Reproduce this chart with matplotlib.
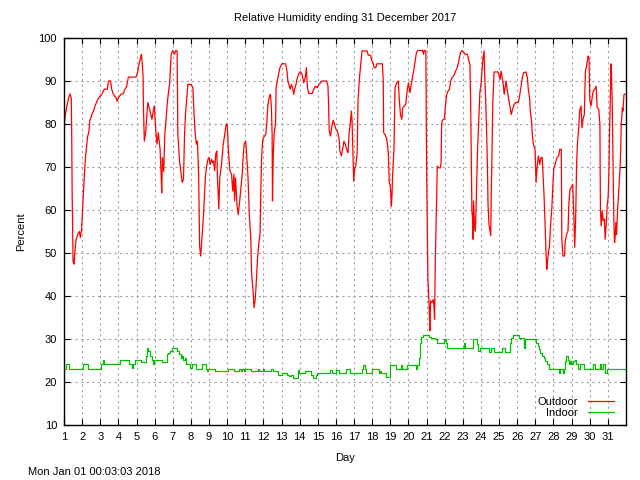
#!/usr/bin/env python

import matplotlib
matplotlib.use('Agg')
from matplotlib import pyplot as plt

# Outdoor relative humidity (day of month, percent)
outdoor_day = [
    1.00, 1.05, 1.15, 1.25, 1.33, 1.40, 1.42, 1.45, 1.50, 1.55, 1.60, 1.65, 1.75, 1.85, 1.90, 1.97,
    2.02, 2.07, 2.12, 2.18, 2.24, 2.30, 2.38, 2.42, 2.52, 2.62, 2.75, 2.86, 2.99,
    3.11, 3.22, 3.39, 3.45, 3.57, 3.63, 3.72, 3.87, 3.93,
    4.00, 4.14, 4.27, 4.36, 4.46, 4.55, 4.97,
    5.05, 5.14, 5.22, 5.27, 5.32, 5.36, 5.38, 5.43, 5.50, 5.55, 5.62, 5.70, 5.80, 5.85, 5.92, 5.98,
    6.07, 6.13, 6.20, 6.30, 6.35, 6.39, 6.43, 6.50, 6.56, 6.63, 6.69, 6.76, 6.83, 6.91,
    7.00, 7.09, 7.17, 7.24, 7.28, 7.37, 7.46, 7.52, 7.59, 7.65, 7.70, 7.78, 7.83,
    8.02, 8.11, 8.17, 8.24, 8.30, 8.36, 8.43, 8.48, 8.54, 8.61, 8.67, 8.72, 8.80, 8.87, 8.94,
    9.00, 9.07, 9.13, 9.20, 9.25, 9.31, 9.37, 9.43, 9.46, 9.54, 9.59, 9.69, 9.78, 9.87, 9.94,
    10.00, 10.07, 10.15, 10.24, 10.31, 10.37, 10.41, 10.46, 10.54, 10.61, 10.69, 10.76, 10.83, 10.89, 10.94,
    11.02, 11.07, 11.15, 11.22, 11.30, 11.35, 11.43, 11.48, 11.54, 11.59, 11.67, 11.74, 11.81, 11.85, 11.90, 11.96,
    12.06, 12.13, 12.19, 12.24, 12.33, 12.39, 12.44, 12.48, 12.50, 12.54, 12.59, 12.67, 12.70, 12.78, 12.85, 12.91,
    13.02, 13.22, 13.30, 13.35, 13.43, 13.48, 13.54, 13.61, 13.67, 13.72, 13.80, 13.85, 13.94,
    14.04, 14.13, 14.22, 14.31, 14.37, 14.43, 14.50, 14.69, 14.78, 14.87, 14.96,
    15.06, 15.24, 15.48, 15.56, 15.59, 15.63, 15.70, 15.78, 15.85, 15.93,
    16.00, 16.07, 16.17, 16.22, 16.30, 16.37, 16.44, 16.52, 16.59, 16.67, 16.72, 16.80, 16.85, 16.89, 16.94, 16.98,
    17.04, 17.09, 17.17, 17.22, 17.30, 17.37, 17.44, 17.72, 17.78, 17.91, 17.96,
    18.06, 18.11, 18.20, 18.26, 18.56, 18.61, 18.63, 18.70, 18.78, 18.83, 18.89, 18.94,
    19.00, 19.06, 19.09, 19.13, 19.20, 19.26, 19.35, 19.44, 19.50, 19.56, 19.63, 19.69, 19.78, 19.85, 19.93,
    20.00, 20.09, 20.15, 20.22, 20.30, 20.37, 20.44, 20.52, 20.78, 20.83, 20.87, 20.96,
    21.00, 21.07, 21.15, 21.18, 21.22, 21.30, 21.37, 21.41, 21.44, 21.48, 21.54, 21.59, 21.67, 21.76, 21.80,
    21.83, 21.87, 21.98,
    22.04, 22.11, 22.19, 22.26, 22.33, 22.41, 22.50, 22.59, 22.69, 22.78, 22.87, 22.96,
    23.06, 23.13, 23.26, 23.31, 23.39, 23.43, 23.46, 23.50, 23.54, 23.56, 23.59, 23.65, 23.69, 23.72, 23.76,
    23.81, 23.87, 23.94,
    24.00, 24.06, 24.11, 24.17, 24.20, 24.26, 24.30, 24.35, 24.39, 24.44, 24.50, 24.54, 24.57, 24.61, 24.65,
    24.72, 24.94,
    25.00, 25.06, 25.11, 25.17, 25.22, 25.28, 25.33, 25.39, 25.44, 25.50, 25.56, 25.61, 25.67, 25.74, 25.83, 25.93,
    26.06, 26.13, 26.20, 26.28, 26.35, 26.48, 26.56, 26.61, 26.69, 26.72, 26.78, 26.83, 26.89, 26.98,
    27.04, 27.09, 27.17, 27.24, 27.31, 27.38, 27.43, 27.48, 27.54, 27.59, 27.63, 27.67, 27.72, 27.78, 27.83,
    27.91, 27.96,
    28.02, 28.09, 28.19, 28.28, 28.35, 28.43, 28.46, 28.52, 28.61, 28.65, 28.72, 28.80, 28.85, 28.91, 28.98,
    29.06, 29.13, 29.17, 29.22, 29.28, 29.33, 29.39, 29.44, 29.52, 29.57, 29.63, 29.70, 29.76, 29.81, 29.87,
    29.91, 29.96,
    30.00, 30.07, 30.13, 30.20, 30.28, 30.35, 30.41, 30.50, 30.56, 30.59, 30.63, 30.69, 30.74, 30.81, 30.85,
    30.91, 30.96,
    31.02, 31.06, 31.09, 31.13, 31.17, 31.20, 31.24, 31.30, 31.33, 31.37, 31.41, 31.44, 31.48, 31.54, 31.61,
    31.69, 31.74, 31.80, 31.83, 31.89, 31.96,
]
outdoor_rh = [
    78, 81.5, 84, 86, 87, 86, 80, 64, 48, 47.4, 50, 52.8, 54.3, 55, 53.6, 55.5,
    60, 64, 68, 72, 74.5, 77, 78.4, 80.7, 82, 83, 84.6, 85.7, 86.5,
    87.1, 88.1, 88.1, 90, 90, 88.1, 86.9, 86.1, 85.3,
    86.1, 86.9, 87.1, 88.1, 88.8, 90.9, 90.9,
    91.9, 93.9, 95.4, 96.2, 93.9, 91.2, 84.2, 76, 78, 80.7, 85, 83.8, 82, 81.1, 83, 84.2,
    78, 75.3, 78, 74.1, 69.1, 64, 72.2, 69, 77.6, 81.1, 84.6, 87.3, 89.6, 96.2,
    97.1, 96.2, 97.1, 97, 77.6, 71.4, 68.3, 66.4, 67.1, 77.6, 82.2, 86.5, 89.2,
    89.2, 88.4, 82.6, 77.6, 75.3, 76, 67.5, 51.6, 49.3, 53.6, 57.1, 60.9, 67.9, 70.2, 71.8,
    72.2, 70.6, 71.8, 71, 71.4, 69.1, 73, 73.7, 67.9, 60.2, 67.5, 70.6, 75.3, 77.6, 79.9,
    80, 73.7, 69.1, 68.3, 64.4, 68.3, 62.1, 67.5, 61.2, 58.9, 62.1, 65.2, 68.3, 73, 75.3,
    76, 73.3, 67.5, 59, 53.6, 45, 41.2, 37.3, 38.9, 42, 48.5, 52, 54.3, 62.9, 72.2, 76.4,
    77.2, 77.6, 80.3, 84.2, 86.5, 86.9, 83.8, 77.6, 62.1, 72.2, 77.6, 80.3, 88.4, 90.4, 91.9, 93.1,
    94, 94, 92.3, 90, 88.8, 88.1, 89.2, 88.4, 86.9, 88.1, 89.2, 90.4, 91.6,
    92.2, 91.6, 89.6, 90.8, 93.1, 88.4, 87.1, 87.1, 88.1, 88.8, 88.4,
    89.2, 90, 90, 88.8, 85, 78.4, 77.2, 79.5, 80.9, 79.9,
    78.8, 78.4, 76.8, 73.7, 72.6, 74.1, 76, 75.3, 74.1, 73.3, 77.6, 80.3, 83, 80.7, 73, 66.7,
    69.8, 70.2, 73.3, 85.7, 90.8, 93.9, 97, 97, 96, 96, 95,
    94, 93.1, 93.1, 94, 94, 90, 78, 77.6, 76.8, 75.7, 73.3, 66.4,
    65.6, 60.9, 63.3, 68.3, 74.1, 88.4, 89.6, 90, 85.3, 82.2, 81.1, 83.8, 84.2, 84.6, 87.7,
    89.6, 87.3, 89.2, 90.8, 92.7, 94.7, 96.6, 97.1, 97.1, 96.2, 97.1, 97,
    69.8, 44.3, 36.5, 31.9, 38.9, 38.5, 39.2, 37.3, 34.6, 48.1, 60.5, 70.2, 69.8, 69.8, 71,
    79.9, 80.9, 81.1,
    84.2, 86.9, 87.7, 88.1, 90, 90.8, 91.2, 92.2, 93.1, 94.7, 96.6, 97.1,
    96.6, 96.2, 96.2, 95, 93.9, 85.3, 74.5, 59.8, 57.9, 53.2, 62.1, 56.3, 55.1, 59, 65.2,
    73.7, 79.9, 87.3,
    89.2, 92.7, 95.4, 97, 92.3, 85.3, 79.9, 71.4, 61.3, 56.7, 55.1, 54, 64.4, 73.7, 84.6,
    92.1, 92.1,
    91.2, 90.4, 92.3, 90.8, 89.6, 86.9, 88.4, 90, 88.1, 86.5, 85, 83.8, 82.2, 83.4, 84.6, 85,
    85, 86.5, 88.4, 90.8, 91.9, 92.1, 90.8, 88.1, 85.7, 83, 81.1, 77.6, 75.3, 74.1,
    66.4, 69.8, 72.6, 70.6, 72.2, 72.2, 67.9, 63.3, 56.3, 49.7, 46.2, 48.1, 50.1, 51.6, 55.9,
    60.5, 65.2,
    69.8, 70.6, 72.2, 72.6, 74.1, 74.1, 53.2, 49.3, 49.3, 52.8, 54.3, 55.1, 61.6, 64.8, 65.2,
    66, 57.9, 51.3, 57.5, 71.4, 76, 78.8, 83, 84.2, 79.1, 81.1, 82.2, 92.3, 93.1, 94.7,
    95.8, 95.4,
    85.7, 84.2, 86.1, 87.8, 88.1, 88.8, 83.8, 83.4, 79.9, 60.2, 56.3, 59.8, 57.5, 57.9, 53.2,
    56.7, 60.9,
    63.3, 69.1, 77.6, 85, 94, 91.9, 84.6, 65.6, 57.5, 52.4, 54.3, 57.1, 54.3, 60.2, 65.2,
    71.4, 79.9, 83.8, 83, 86.9, 86.9,
]

# Indoor relative humidity, each value holds until the next day entry
indoor_day = [
    1.00, 1.10, 1.30, 2.05, 2.32, 3.04, 3.13, 3.20, 4.07, 4.57, 4.75, 4.82, 4.92,
    5.22, 5.50, 5.56, 5.63, 5.75, 5.83, 5.90, 5.98, 6.41, 6.68, 6.75, 6.85, 6.93,
    7.25, 7.35, 7.45, 7.52, 7.57, 7.65, 7.72, 7.97, 8.04, 8.30, 8.62, 8.84, 8.90, 8.96,
    9.35, 10.05, 10.37, 10.68, 10.74, 10.80, 10.92, 10.98, 11.29, 11.68, 11.73, 11.98,
    12.03, 12.44, 12.54, 12.78, 13.00, 13.30, 13.42, 13.50, 13.65, 13.90, 13.98,
    14.32, 14.62, 14.72, 14.90, 14.97, 15.70, 15.80, 15.98, 16.15, 16.58, 16.75,
    17.45, 17.52, 17.60, 17.67, 17.97, 18.37, 18.44, 18.50, 18.78, 18.96,
    19.30, 19.60, 19.66, 19.93, 20.40, 20.48, 20.60, 20.65, 20.71, 20.78,
    21.13, 21.22, 21.45, 21.57, 21.96, 22.05, 22.13, 23.07, 23.13, 23.57, 23.77, 23.85, 23.93,
    24.46, 24.55, 24.72, 25.18, 25.35, 25.58, 25.66, 25.75, 26.12, 26.38, 26.44,
    27.03, 27.12, 27.20, 27.28, 27.35, 27.45, 27.53, 27.62, 27.78,
    28.31, 28.36, 28.50, 28.56, 28.62, 28.70, 28.78, 28.86, 28.93, 28.98,
    29.10, 29.18, 29.26, 29.36, 29.45, 29.70, 30.20, 30.30, 30.55, 30.62, 30.75, 30.84, 30.93, 32.00,
]
indoor_rh = [
    23.1, 24.1, 23.1, 24.1, 23.1, 24.1, 25.2, 24.1, 25.2, 24.1, 23.3, 24.1, 25.2,
    24.7, 26, 28, 27.3, 26, 25.2, 24.1, 25.2, 24.7, 26.4, 26.8, 27.3, 28,
    27.3, 26.4, 25.6, 26, 25.2, 25.6, 24.1, 23.3, 24.1, 23.1, 24.1, 23.1, 22.5, 23.1,
    22.5, 23.1, 22.5, 23.1, 22.5, 23.1, 22.5, 23.1, 22.5, 23.1, 22.5, 23.1,
    22.5, 23.1, 22.5, 21.7, 22.1, 21.7, 21.3, 21.7, 20.9, 22.9, 22.1,
    22.5, 21.7, 20.9, 21.7, 22.1, 22.9, 22.1, 22.9, 22.1, 23, 22.1,
    23, 23.9, 23, 22.1, 23, 22.1, 22.5, 22.1, 21.1, 23.9,
    23, 23.9, 23, 23.9, 23, 23.9, 25.6, 29.1, 30.5, 30.9,
    30.5, 30.2, 29.9, 29.1, 29.9, 29.1, 28, 29.1, 28, 29.9, 28.9, 27.2, 28,
    27, 28, 27, 28, 27, 29.1, 30.2, 30.9, 30.2, 28, 29.9,
    29.1, 28.3, 27.6, 26.8, 26, 25.6, 24.8, 24.1, 23.1,
    22.1, 23.1, 22.1, 23.1, 24.8, 26, 25.2, 24.1, 25, 24.1,
    24.8, 25.2, 24.1, 23.1, 24.1, 23.1, 24.1, 23.1, 24.1, 23.1, 24.1, 22.1, 23.1, 23.1,
]

day_ticks = list(range(1, 32))
pct_ticks = list(range(10, 101, 10))

title = 'Relative Humidity ending 31 December 2017'
stamp = 'Mon Jan 01 00:03:03 2018'


def style_axes(ax):
    '''Make the axes look like a gnuplot png terminal.'''
    ax.set_xlim(1, 32)
    ax.set_ylim(10, 100)
    ax.set_xticks(day_ticks)
    ax.set_yticks(pct_ticks)
    ax.tick_params(direction='in', length=4.3, width=0.8, top=True, right=True,
                   labelsize=8, pad=5)
    ax.grid(True, color='#a0a0a0', linestyle=(0, (2, 3)), linewidth=0.8)
    for spine in ax.spines.values():
        spine.set_linewidth(1.0)


def main():
    plt.rcParams['font.family'] = ['Liberation Sans', 'DejaVu Sans']

    fig = plt.figure(figsize=(6.4, 4.8), dpi=100)
    ax = fig.add_axes([64 / 640, 1 - 425 / 480, (626 - 64) / 640, (425 - 38) / 480])

    ax.plot(outdoor_day, outdoor_rh, color='#ff0000', lw=0.9, label='Outdoor')
    ax.plot(indoor_day, indoor_rh, color='#00c000', lw=0.9, drawstyle='steps-post', label='Indoor')

    style_axes(ax)

    ax.set_xlabel('Day', fontsize=8, labelpad=8)
    ax.set_ylabel('Percent', fontsize=8)
    ax.yaxis.set_label_coords(-0.068, 0.5)

    fig.text(345 / 640, 1 - 18 / 480, title, ha='center', va='center', fontsize=8)
    fig.text(28 / 640, 1 - 472 / 480, stamp, ha='left', va='center', fontsize=8)

    ax.legend(loc='lower right', bbox_to_anchor=(0.979, 0.018), frameon=False,
              markerfirst=False, fontsize=8, handlelength=2.4, handletextpad=0.9,
              labelspacing=0.1, borderpad=0, borderaxespad=0)

    fig.savefig('out.png', dpi=100)
    plt.close(fig)


if __name__ == '__main__':
    main()
